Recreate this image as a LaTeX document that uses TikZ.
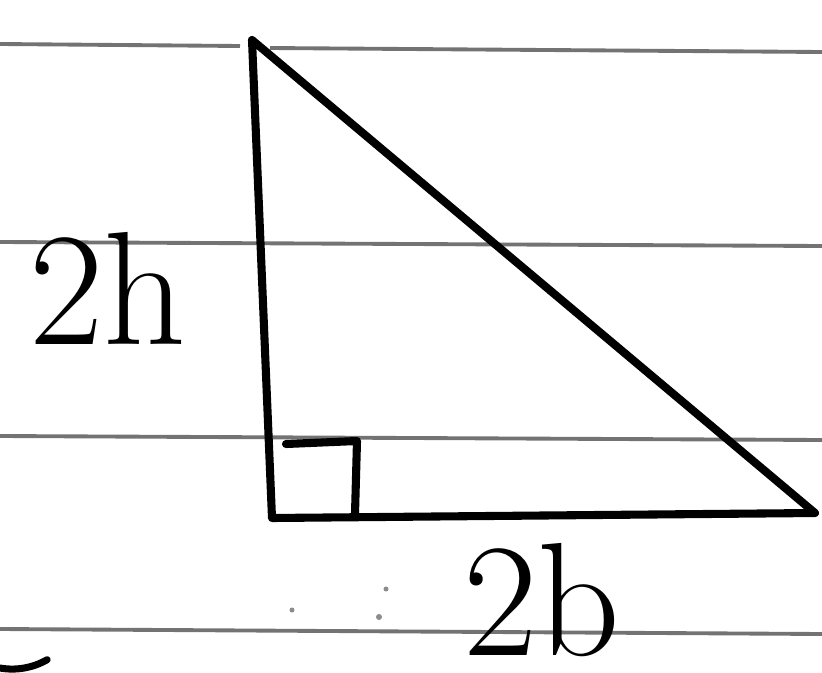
\documentclass[tikz,border=0pt]{standalone}
\usepackage{xcolor}
\usepackage{tikz}

\begin{document}
\begin{tikzpicture}[x=0.02cm,y=-0.02cm,
    rule/.style={black!55,line width=2.2pt},
    side/.style={black,line width=4.6pt,line join=round,line cap=round},
    hand/.style={inner sep=0pt,font=\fontsize{92}{92}\selectfont}]
  \fill[white] (0,0) rectangle (822,673);
  \useasboundingbox (0,0) rectangle (822,673);
  % ruled paper
  \draw[rule] (0,44) -- (240,46);
  \draw[rule] (270,48) -- (822,52);
  \draw[rule] (0,242) -- (822,246);
  \draw[rule] (0,436) -- (822,440);
  \draw[rule] (0,629) -- (822,634);
  \fill[black!45] (292,610) circle (2.5) (386,589) circle (2.5) (379,617) circle (3);
  \draw[side,line width=4pt] (0,668) arc (100:60:70);
  % triangle
  \coordinate (top) at (252,40);
  \coordinate (corner) at (272,518);
  \coordinate (right) at (815,513);
  \draw[side] (top) -- (corner) -- (right) -- cycle;
  \draw[side] (286,444) -- (357,441) -- (355,514);
  \node[hand] (h) at (108,288) {2h};
  \node[hand] (b) at (542,600) {2b};
\end{tikzpicture}
\end{document}
